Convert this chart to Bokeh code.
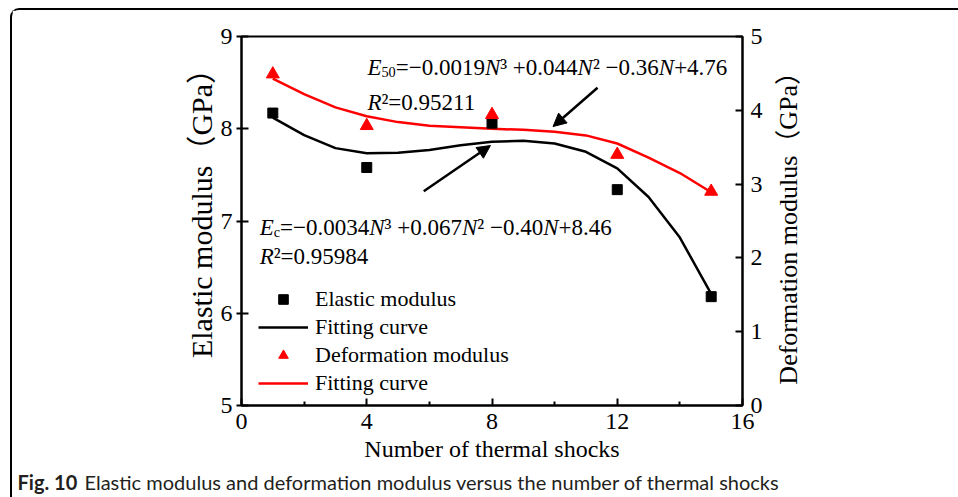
import math
from bokeh.plotting import figure
from bokeh.layouts import column, row
from bokeh.models import (Range1d, LinearAxis, Legend, LegendItem, Label, Arrow,
                          NormalHead, FixedTicker)
from bokeh.embed import file_html
from bokeh.resources import INLINE

# ---------------- data ----------------
N_points = [1, 4, 8, 12, 15]
elastic_modulus = [8.17, 7.58, 8.06, 7.34, 6.18]        # GPa, left axis
deformation_modulus = [4.49, 3.79, 3.94, 3.40, 2.90]    # GPa, right axis

N_fit = [1, 2, 3, 4, 5, 6, 7, 8, 9, 10, 11, 12, 13, 14, 15]
elastic_fit = [8.12, 7.93, 7.79, 7.735, 7.74, 7.77, 7.82, 7.86, 7.87, 7.84,
               7.75, 7.57, 7.26, 6.82, 6.21]
deformation_fit = [4.43, 4.22, 4.04, 3.92, 3.84, 3.79, 3.77, 3.75, 3.735, 3.71,
                   3.66, 3.55, 3.36, 3.15, 2.89]

x_ticks = [0, 4, 8, 12, 16]
x_minor_ticks = [2, 6, 10, 14]
left_ticks = [5, 6, 7, 8, 9]
right_ticks = [0, 1, 2, 3, 4, 5]

x_title = "Number of thermal shocks"
left_title = "Elastic modulus（GPa）"
right_title = "Deformation modulus（GPa）"
caption_bold = "Fig. 10"
caption_text = "Elastic modulus and deformation modulus versus the number of thermal shocks"

SERIF = "Liberation Serif, Noto Sans CJK SC"
SANS = "Lato"

H_MAIN = 460
W_MAIN = 758
W_RIGHT = 188
H_CAP = 27

p = figure(width=W_MAIN, height=H_MAIN, x_range=Range1d(0, 16), y_range=Range1d(5, 9),
           output_backend="svg", toolbar_location=None,
           min_border_left=229, min_border_right=28, min_border_top=26,
           min_border_bottom=65)
p.extra_y_ranges = {"def": Range1d(0, 5)}
p.grid.visible = False
p.outline_line_color = "black"
p.outline_line_width = 2
p.background_fill_color = "white"
p.border_fill_color = "white"

xa = p.xaxis[0]
xa.ticker = FixedTicker(ticks=x_ticks, minor_ticks=x_minor_ticks)
xa.axis_label = x_title

ya = p.yaxis[0]
ya.ticker = FixedTicker(ticks=left_ticks, minor_ticks=[])
ya.axis_label = "\u2002\u2002" + left_title

ra = LinearAxis(y_range_name="def", ticker=FixedTicker(ticks=right_ticks, minor_ticks=[]))
p.add_layout(ra, "right")

for ax in (xa, ya, ra):
    ax.axis_line_width = 2
    ax.axis_line_color = "black"
    ax.major_tick_line_width = 2
    ax.minor_tick_line_width = 2
    ax.major_tick_line_color = "black"
    ax.minor_tick_line_color = "black"
    ax.major_label_text_font = SERIF
    ax.major_label_text_font_size = "24px"
    ax.major_label_text_color = "black"
    ax.axis_label_text_font = SERIF
    ax.axis_label_text_font_size = "24px"
    ax.axis_label_text_font_style = "normal"
    ax.axis_label_text_color = "black"

ya.axis_label_text_font_size = "30px"

xa.major_tick_in = 7
xa.major_tick_out = 0
xa.minor_tick_in = 4
xa.minor_tick_out = 0
xa.major_label_standoff = 8
xa.axis_label_standoff = 4

ya.major_tick_in = 7
ya.major_tick_out = 5
ya.minor_tick_in = 0
ya.minor_tick_out = 0
ya.major_label_standoff = 4
ya.axis_label_standoff = 0

ra.major_tick_in = 7
ra.major_tick_out = 0
ra.minor_tick_in = 0
ra.minor_tick_out = 0
ra.major_label_standoff = 8

# ---------------- glyphs ----------------
r_bl = p.line(N_fit, elastic_fit, line_color="black", line_width=2.5)
r_rl = p.line(N_fit, deformation_fit, line_color="#ff0000", line_width=2.5, y_range_name="def")
r_sq = p.scatter(N_points, elastic_modulus, marker="square", size=10,
                 fill_color="black", line_color="black")
r_tri = p.scatter(N_points, deformation_modulus, marker="triangle", size=13,
                  fill_color="#ff0000", line_color="#ff0000", y_range_name="def")

legend = Legend(items=[
    LegendItem(label="Elastic modulus", renderers=[r_sq]),
    LegendItem(label="Fitting curve", renderers=[r_bl]),
    LegendItem(label="Deformation modulus", renderers=[r_tri]),
    LegendItem(label="Fitting curve", renderers=[r_rl]),
], location=(17, 9))
legend.label_text_font = SERIF
legend.label_text_font_size = "22px"
legend.label_text_color = "black"
legend.glyph_width = 50
legend.glyph_height = 24
legend.label_height = 24
legend.label_standoff = 7
legend.spacing = 2
legend.padding = 0
legend.margin = 0
legend.border_line_alpha = 0
legend.background_fill_alpha = 0
p.add_layout(legend)

# ---------------- equations ----------------
W_REG = {"0": 500, "1": 500, "2": 500, "3": 500, "4": 500, "5": 500, "6": 500,
         "7": 500, "8": 500, "9": 500, ".": 250, "=": 564, "+": 564, "\u2212": 564,
         " ": 250, "\u00b2": 300, "\u00b3": 300, "c": 444}
W_ITA = {"E": 611, "N": 667, "R": 611}


def twidth(s, fs, style):
    tab = W_ITA if style == "italic" else W_REG
    return sum(tab.get(ch, 500) for ch in s) * fs / 1000.0


def equation(pieces, x, y, size):
    off = 0.0
    for txt, style, scale, dy in pieces:
        fs = size * scale
        p.add_layout(Label(x=x, y=y, x_offset=off, y_offset=dy, text=txt,
                           text_font=SERIF, text_font_size=f"{fs:.1f}px",
                           text_font_style=style, text_baseline="alphabetic",
                           text_color="black"))
        off += twidth(txt, fs, style)


EQ = 23
M = "\u2212"
eq50 = [("E", "italic", 1, 0), ("50", "normal", 0.62, -5), ("=" + M + "0.0019", "normal", 1, 0),
        ("N", "italic", 1, 0), ("\u00b3 +0.044", "normal", 1, 0), ("N", "italic", 1, 0),
        ("\u00b2 " + M + "0.36", "normal", 1, 0), ("N", "italic", 1, 0), (" +4.76", "normal", 1, 0)]
r50 = [("R", "italic", 1, 0), ("\u00b2=0.95211", "normal", 1, 0)]
eqc = [("E", "italic", 1, 0), ("c", "normal", 0.62, -5), ("=" + M + "0.0034", "normal", 1, 0),
       ("N", "italic", 1, 0), ("\u00b3 +0.067", "normal", 1, 0), ("N", "italic", 1, 0),
       ("\u00b2 " + M + "0.40", "normal", 1, 0), ("N", "italic", 1, 0), (" +8.46", "normal", 1, 0)]
rc = [("R", "italic", 1, 0), ("\u00b2=0.95984", "normal", 1, 0)]

equation(eq50, 4.02, 8.664, EQ)
equation(r50, 4.02, 8.285, EQ)
equation(eqc, 0.58, 6.93, EQ)
equation(rc, 0.58, 6.615, EQ)

for xs, ys, xe, ye in [(11.37, 8.444, 9.95, 8.024), (5.82, 7.323, 7.95, 7.818)]:
    p.add_layout(Arrow(end=NormalHead(size=13, fill_color="black", line_color="black"),
                       x_start=xs, y_start=ys, x_end=xe, y_end=ye,
                       line_color="black", line_width=2.5))


def blank(w, h):
    f = figure(width=w, height=h, x_range=Range1d(0, w), y_range=Range1d(0, h),
               output_backend="svg", toolbar_location=None,
               x_axis_location=None, y_axis_location=None,
               min_border_left=0, min_border_right=0, min_border_top=0, min_border_bottom=0)
    f.grid.visible = False
    f.outline_line_color = None
    f.background_fill_color = "white"
    f.border_fill_color = "white"
    return f


# right-hand axis title (reads bottom to top)
rt = blank(W_RIGHT, H_MAIN)
rt.add_layout(Label(x=18, y=229, text=right_title, angle=math.pi / 2,
                    text_font=SERIF, text_font_size="26px", text_align="center",
                    text_baseline="middle", text_color="black"))

# caption
cap = blank(W_MAIN + W_RIGHT, H_CAP)
cap.add_layout(Label(x=5, y=16, text=caption_bold, text_font=SANS,
                     text_font_size="20px", text_font_style="bold",
                     text_baseline="alphabetic", text_color="#231f20"))
cap.add_layout(Label(x=72, y=16, text=caption_text, text_font=SANS,
                     text_font_size="20px", text_font_style="normal",
                     text_baseline="alphabetic", text_color="#231f20"))

layout = column(row(p, rt), cap)
layout.styles = {"margin-top": "8px", "margin-left": "10px",
                 "border-top": "2px solid #000", "border-left": "2px solid #000",
                 "border-top-left-radius": "9px"}

open("out.html", "w").write(file_html(layout, INLINE))
